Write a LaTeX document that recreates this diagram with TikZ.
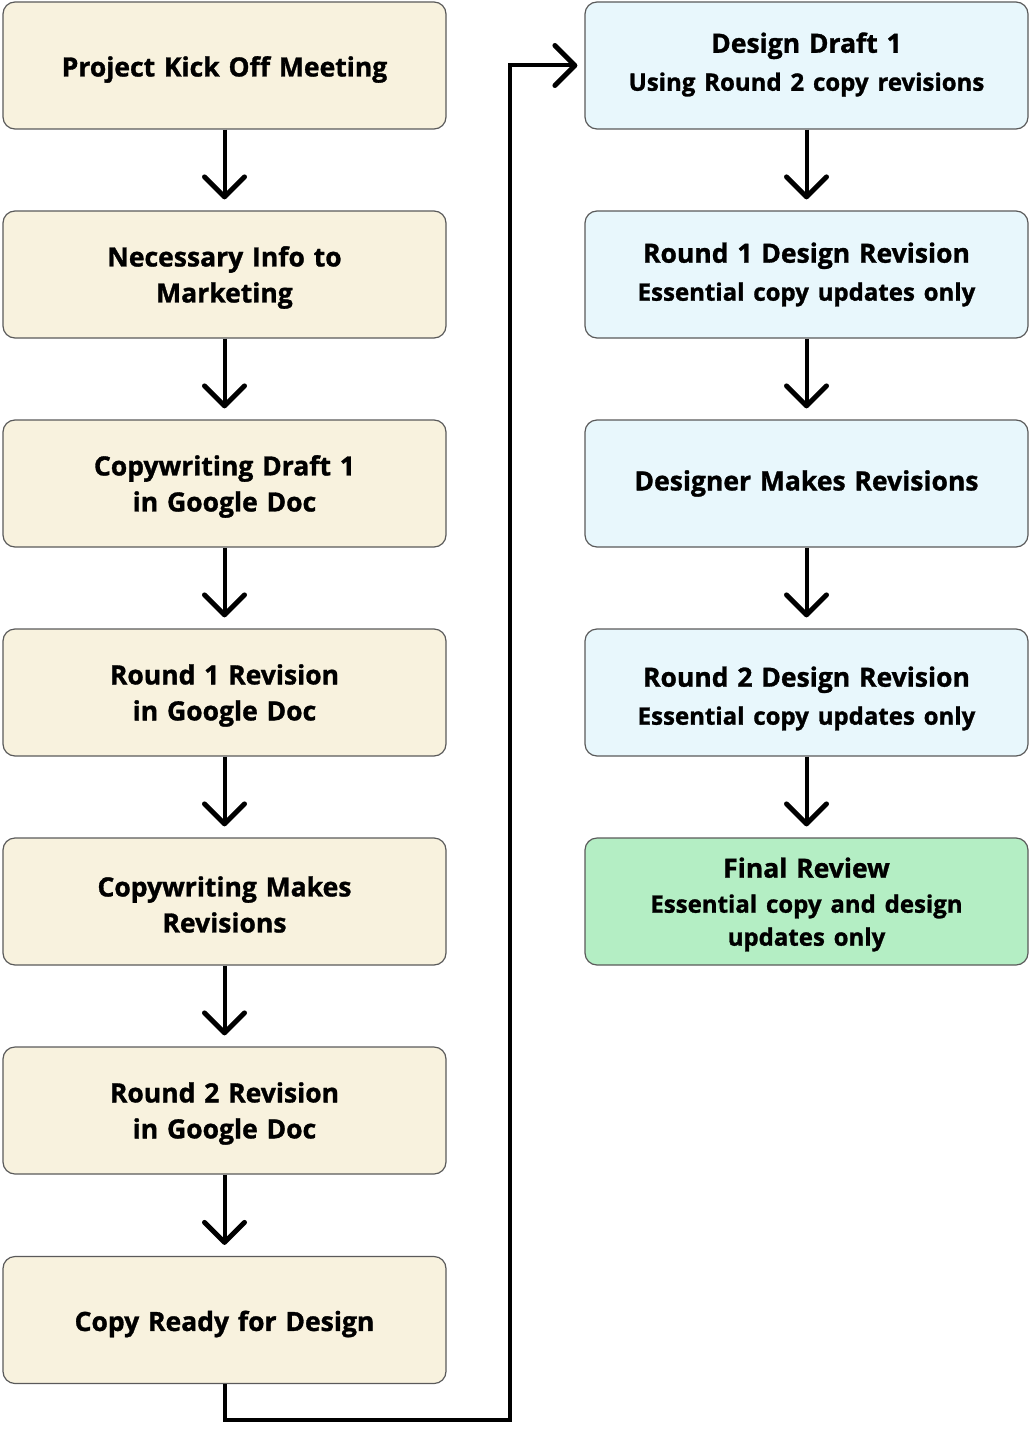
\documentclass[tikz,border=0pt]{standalone}
\usepackage{fontspec}
\setmainfont{Open Sans}[BoldFeatures={FakeBold=1.2}]
\usetikzlibrary{arrows.meta}
\definecolor{cream}{RGB}{248,242,222}
\definecolor{skyb}{RGB}{232,247,252}
\definecolor{mint}{RGB}{180,238,196}
\definecolor{edge}{RGB}{90,90,90}
\newcommand\subln{\fontsize{24}{33}\selectfont}
\tikzset{
  box/.style={draw=edge, line width=1.2pt, rounded corners=12pt, minimum width=443pt, minimum height=127pt, inner sep=0pt},
  lbox/.style={box, fill=cream},
  rbox/.style={box, fill=skyb},
  gbox/.style={box, fill=mint},
  txt/.style={inner sep=0pt, align=center, text width=440pt,
    font=\fontsize{26.5}{36}\selectfont\bfseries},
  gtxt/.style={txt, font=\fontsize{26.5}{33}\selectfont\bfseries},
  tipshape/.style={-{Straight Barb[length=20pt,width=40pt,line width=5pt,round]}},
  arr/.style={line width=4pt, tipshape, shorten >=11pt},
  loopline/.style={line width=4pt, tipshape, shorten >=7pt},
}
\begin{document}
\begin{tikzpicture}[x=1pt,y=-1pt]
\useasboundingbox (0,0) rectangle (1029,1453);
% boxes
\node[lbox] (a1) at (224.5,65.5) {};
\node[lbox] (a2) at (224.5,274.5) {};
\node[lbox] (a3) at (224.5,483.5) {};
\node[lbox] (a4) at (224.5,692.5) {};
\node[lbox] (a5) at (224.5,901.5) {};
\node[lbox] (a6) at (224.5,1110.5) {};
\node[lbox] (a7) at (224.5,1320) {};
\node[rbox] (b1) at (806.5,65.5) {};
\node[rbox] (b2) at (806.5,274.5) {};
\node[rbox] (b3) at (806.5,483.5) {};
\node[rbox] (b4) at (806.5,692.5) {};
\node[gbox] (b5) at (806.5,901.5) {};
% texts
\node[txt] (a1t) at ([yshift=-4pt]a1.center) {Project Kick Off Meeting};
\node[txt] (a2t) at ([yshift=-3pt]a2.center) {Necessary Info to\\Marketing};
\node[txt] (a3t) at ([yshift=-3pt]a3.center) {Copywriting Draft 1\\in Google Doc};
\node[txt] (a4t) at ([yshift=-3pt]a4.center) {Round 1 Revision\\in Google Doc};
\node[txt] (a5t) at ([yshift=-3pt]a5.center) {Copywriting Makes\\Revisions};
\node[txt] (a6t) at ([yshift=-3pt]a6.center) {Round 2 Revision\\in Google Doc};
\node[txt] (a7t) at ([yshift=-4pt]a7.center) {Copy Ready for Design};
\node[txt] (b1t) at ([yshift=1pt]b1.center) {Design Draft 1\\[2pt]{\subln Using Round 2 copy revisions}};
\node[txt] (b2t) at ([yshift=-0pt]b2.center) {Round 1 Design Revision\\[2pt]{\subln Essential copy updates only}};
\node[txt] (b3t) at ([yshift=0pt]b3.center) {Designer Makes Revisions};
\node[txt] (b4t) at ([yshift=-6pt]b4.center) {Round 2 Design Revision\\[2pt]{\subln Essential copy updates only}};
\node[gtxt] (b5t) at ([yshift=-3pt]b5.center) {Final Review\\[2pt]{\subln Essential copy and design}\\{\subln updates only}};
% connectors
\draw[arr] (a1) -- (a2);
\draw[arr] (a2) -- (a3);
\draw[arr] (a3) -- (a4);
\draw[arr] (a4) -- (a5);
\draw[arr] (a5) -- (a6);
\draw[arr] (a6) -- (a7);
\draw[arr] (b1) -- (b2);
\draw[arr] (b2) -- (b3);
\draw[arr] (b3) -- (b4);
\draw[arr] (b4) -- (b5);
\coordinate (lp) at (510,1420);
\draw[loopline] (a7.south) |- (lp) |- (b1.west);
\end{tikzpicture}
\end{document}
